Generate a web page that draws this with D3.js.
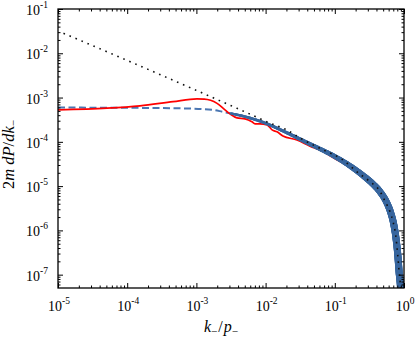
<!DOCTYPE html>
<html>
<head>
<meta charset="utf-8">
<script src="https://cdn.jsdelivr.net/npm/d3@7"></script>
<style>
body { margin: 0; background: #fff; }
svg { display: block; }
text { font-family: "Liberation Serif", "DejaVu Serif", serif; fill: #000; }
</style>
</head>
<body>
<svg width="415" height="338"></svg>
<script>
// tick values
var xMajor = [1e-5, 1e-4, 1e-3, 1e-2, 1e-1, 1];
var xExp = ["-5", "-4", "-3", "-2", "-1", "0"];
var yMajor = [1e-7, 1e-6, 1e-5, 1e-4, 1e-3, 1e-2, 1e-1];
var yExp = ["-7", "-6", "-5", "-4", "-3", "-2", "-1"];

// red curve
var redK = [1e-5, 5.1e-5, 1.53e-4, 4.6e-4, 1.02e-3, 1.3e-3, 1.6e-3, 1.99e-3, 2.59e-3, 3.06e-3,
    3.86e-3, 5.04e-3, 6.35e-3, 7.03e-3, 8.3e-3, 1.05e-2, 1.24e-2, 1.46e-2, 1.78e-2, 2.84e-2,
    4.38e-2, 6.75e-2, 9.4e-2, 0.158, 0.251, 0.355, 0.447];
var redP = [5.27e-4, 5.75e-4, 6.5e-4, 8.1e-4, 9.33e-4, 9.25e-4, 8.7e-4, 7.4e-4, 5.27e-4, 4.28e-4,
    3.47e-4, 3.3e-4, 2.83e-4, 2.55e-4, 2.55e-4, 2.42e-4, 1.86e-4, 1.68e-4, 1.36e-4, 1.1e-4,
    8.0e-5, 6.1e-5, 4.4e-5, 2.8e-5, 1.68e-5, 1.06e-5, 7.2e-6];

// blue dashed curve
var dashK = [1e-5, 1.53e-4, 8.1e-4, 1.74e-3, 2.42e-3, 3.16e-3, 5e-3, 1e-2, 2e-2, 4e-2, 6.3e-2,
    0.1, 0.158, 0.251, 0.355, 0.447, 0.562, 0.631, 0.708, 0.759, 0.813, 0.851, 0.891, 0.912];
var dashP = [5.94e-4, 5.85e-4, 5.64e-4, 5.27e-4, 4.75e-4, 4.37e-4, 3.72e-4, 2.63e-4, 1.62e-4, 9.55e-5,
    6.76e-5, 4.68e-5, 3.02e-5, 1.78e-5, 1.12e-5, 7.59e-6, 4.27e-6, 2.75e-6, 1.41e-6, 7.41e-7,
    2.82e-7, 1.12e-7, 5.0e-8, 2.0e-8];

// blue band (simulation points)
var bandK = [3.16e-3, 5e-3, 1e-2, 2e-2, 4e-2, 6.3e-2, 0.1, 0.158, 0.251, 0.355, 0.447, 0.562,
    0.631, 0.708, 0.759, 0.813, 0.851, 0.891, 0.912];
var bandP = [4.37e-4, 3.72e-4, 2.63e-4, 1.62e-4, 9.55e-5, 6.76e-5, 4.68e-5, 3.02e-5, 1.78e-5,
    1.12e-5, 7.59e-6, 4.27e-6, 2.75e-6, 1.41e-6, 7.41e-7, 2.82e-7, 1.12e-7, 5.0e-8, 2.0e-8];

// black dotted curve
var dotK = [1.2e-5, 1e-4, 1e-3, 3.2e-3, 6e-3, 1.07e-2, 2e-2, 3.3e-2, 6.5e-2, 0.126, 0.22, 0.32,
    0.45, 0.53, 0.63, 0.7, 0.76, 0.81, 0.85, 0.89, 0.91];
var dotP = [2.83e-2, 6.9e-3, 1.45e-3, 6.5e-4, 4.2e-4, 2.78e-4, 1.87e-4, 1.17e-4, 6.8e-5, 4.07e-5,
    1.97e-5, 1.27e-5, 7.6e-6, 4.6e-6, 2.6e-6, 1.5e-6, 7.6e-7, 2.9e-7, 1.15e-7, 5e-8, 2e-8];

var svg = d3.select("svg"),
    margin = {top: 9, right: 11, bottom: 50, left: 58},
    width = +svg.attr("width") - margin.left - margin.right,
    height = +svg.attr("height") - margin.top - margin.bottom;

var x = d3.scaleLog().domain([1e-5, 1]).range([0, width]);
var y = d3.scaleLog().domain([5e-8, 1e-1]).range([height, 0]);

function minors(scale) {
    var d = scale.domain(), out = [];
    for (var e = Math.floor(Math.log10(d[0])); e < Math.ceil(Math.log10(d[1])); e++) {
        for (var m = 2; m < 10; m++) {
            var v = m * Math.pow(10, e);
            if (v > d[0] && v < d[1]) out.push(v);
        }
    }
    return out;
}

var g = svg.append("g")
    .attr("transform", "translate(" + margin.left + "," + margin.top + ")");

svg.append("defs").append("clipPath").attr("id", "clip")
    .append("rect").attr("width", width).attr("height", height);

var plot = g.append("g").attr("clip-path", "url(#clip)");

function pts(ks, ps) { return ks.map(function(k, i) { return [k, ps[i]]; }); }

var line = d3.line()
    .x(function(d) { return x(d[0]); })
    .y(function(d) { return y(d[1]); })
    .curve(d3.curveMonotoneX);

// dashed blue
plot.append("path")
    .attr("d", line(pts(dashK, dashP)))
    .attr("fill", "none")
    .attr("stroke", "#4a76b2")
    .attr("stroke-width", 2)
    .attr("stroke-dasharray", "7,3.5");

// red
plot.append("path")
    .attr("d", line(pts(redK, redP)))
    .attr("fill", "none")
    .attr("stroke", "#ff0000")
    .attr("stroke-width", 1.7)
    .attr("stroke-linejoin", "round");

// blue band: sample the curve and draw short pieces that widen with k
var guide = plot.append("path")
    .attr("d", line(pts(bandK, bandP)))
    .attr("fill", "none").attr("stroke", "none");
var bandWidth = d3.scaleLog()
    .domain([3e-3, 2e-2, 0.1, 0.3, 1])
    .range([2.4, 3.1, 4.8, 6.4, 7.2]);
var node = guide.node(), len = node.getTotalLength(), samples = [];
for (var s = 0; s <= len; s += 1) samples.push(node.getPointAtLength(s));
for (var i = 1; i < samples.length; i++) {
    var a = samples[i - 1], b = samples[i];
    plot.append("line")
        .attr("x1", a.x).attr("y1", a.y).attr("x2", b.x).attr("y2", b.y)
        .attr("stroke", "#38669e")
        .attr("stroke-width", bandWidth(x.invert((a.x + b.x) / 2)))
        .attr("stroke-linecap", "round");
}

// dotted black
plot.append("path")
    .attr("d", line(pts(dotK, dotP)))
    .attr("fill", "none")
    .attr("stroke", "#111")
    .attr("stroke-width", 1.6)
    .attr("stroke-dasharray", "1.6,4.9");

// ticks, inward on all four sides
function ticks(axis, tr, vals, size) {
    var a = g.append("g").attr("transform", tr)
        .call(axis.tickValues(vals).tickSize(-size).tickFormat(""));
    a.select(".domain").remove();
    a.selectAll("line").attr("stroke", "#000").attr("stroke-width", 1);
}
ticks(d3.axisBottom(x), "translate(0," + height + ")", xMajor, 5);
ticks(d3.axisBottom(x), "translate(0," + height + ")", minors(x), 2.5);
ticks(d3.axisTop(x), "translate(0,0)", xMajor, 5);
ticks(d3.axisTop(x), "translate(0,0)", minors(x), 2.5);
ticks(d3.axisLeft(y), "translate(0,0)", yMajor, 5);
ticks(d3.axisLeft(y), "translate(0,0)", minors(y), 2.5);
ticks(d3.axisRight(y), "translate(" + width + ",0)", yMajor, 5);
ticks(d3.axisRight(y), "translate(" + width + ",0)", minors(y), 2.5);

// frame
g.append("rect")
    .attr("width", width).attr("height", height)
    .attr("fill", "none").attr("stroke", "#000").attr("stroke-width", 1.3);

// tick labels
xMajor.forEach(function(v, i) {
    var t = g.append("text")
        .attr("x", x(v) + 1).attr("y", height + 23)
        .attr("text-anchor", "middle")
        .style("font-size", "14px");
    t.append("tspan").text("10");
    t.append("tspan").attr("dy", -7).style("font-size", "9.5px").text(xExp[i]);
});
yMajor.forEach(function(v, i) {
    var t = g.append("text")
        .attr("x", -10).attr("y", y(v) + 6)
        .attr("text-anchor", "end")
        .style("font-size", "14px");
    t.append("tspan").text("10");
    t.append("tspan").attr("dy", -7).style("font-size", "9.5px").text(yExp[i]);
});

// axis labels
var xl = g.append("text")
    .attr("x", width / 2 - 10).attr("y", height + 44)
    .attr("text-anchor", "middle")
    .style("font-size", "16px").style("font-style", "italic");
xl.append("tspan").text("k");
xl.append("tspan").attr("dy", 3).style("font-size", "11px").style("font-style", "normal").text("\u2212");
xl.append("tspan").attr("dy", -3).attr("dx", 1).style("font-style", "normal").text("/");
xl.append("tspan").attr("dx", 1).text("p");
xl.append("tspan").attr("dy", 3).style("font-size", "11px").style("font-style", "normal").text("\u2212");

var yl = svg.append("text")
    .attr("transform", "translate(14," + (margin.top + height / 2 + 6) + ") rotate(-90)")
    .attr("text-anchor", "middle")
    .style("font-size", "16.5px");
yl.append("tspan").text("2");
yl.append("tspan").style("font-style", "italic").text("m dP");
yl.append("tspan").text("/");
yl.append("tspan").style("font-style", "italic").text("dk");
yl.append("tspan").attr("dy", 3).style("font-size", "11px").text("\u2212");
</script>
</body>
</html>
